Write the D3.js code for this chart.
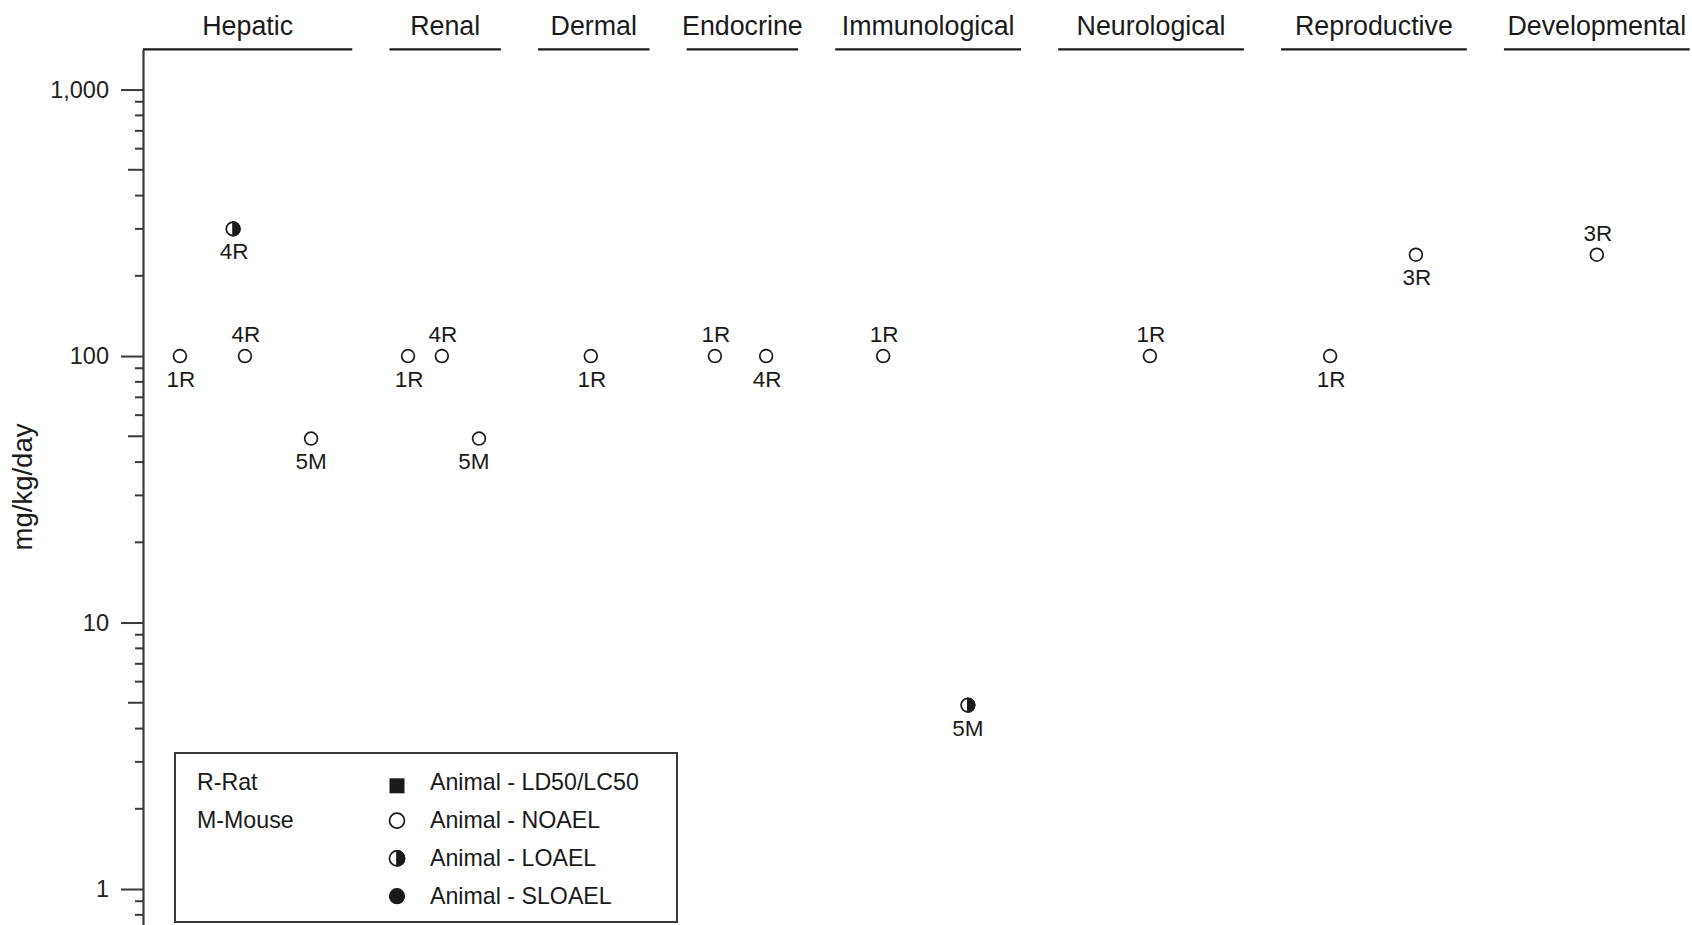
<!DOCTYPE html>
<html>
<head>
<meta charset="utf-8">
<script src="https://cdn.jsdelivr.net/npm/d3@7/dist/d3.min.js"></script>
<style>
  html, body { margin: 0; padding: 0; background: #ffffff; }
  svg { display: block; font-family: "Liberation Sans", Arial, sans-serif; }
</style>
</head>
<body>
<svg id="chart" width="1692" height="925"></svg>
<script>
// Endpoint categories and the column span each one occupies along the top
const categories = ["Hepatic", "Renal", "Dermal", "Endocrine", "Immunological", "Neurological", "Reproductive", "Developmental"];
const categoryStart = [0, 7, 11, 15, 19, 25, 31, 37];
const categoryEnd = [6, 10, 14, 18, 24, 30, 36, 42];

// Study endpoints: category, column within the layout, dose (mg/kg/day), study/species key, effect level, label side
const pointCategory = ["Hepatic", "Hepatic", "Hepatic", "Hepatic",
                       "Renal", "Renal", "Renal",
                       "Dermal",
                       "Endocrine", "Endocrine",
                       "Immunological", "Immunological",
                       "Neurological",
                       "Reproductive", "Reproductive",
                       "Developmental"];
const pointColumn = [1.36, 2.79, 3.11, 4.89,
                     7.5, 8.41, 9.41,
                     12.42,
                     15.76, 17.14,
                     20.29, 22.57,
                     27.47,
                     32.32, 34.63,
                     39.5];
const pointValue = [100, 300, 100, 49,
                    100, 100, 49,
                    100,
                    100, 100,
                    100, 4.9,
                    100,
                    100, 240,
                    240];
const pointStudy = ["1R", "4R", "4R", "5M",
                    "1R", "4R", "5M",
                    "1R",
                    "1R", "4R",
                    "1R", "5M",
                    "1R",
                    "1R", "3R",
                    "3R"];
const pointEffect = ["NOAEL", "LOAEL", "NOAEL", "NOAEL",
                     "NOAEL", "NOAEL", "NOAEL",
                     "NOAEL",
                     "NOAEL", "NOAEL",
                     "NOAEL", "LOAEL",
                     "NOAEL",
                     "NOAEL", "NOAEL",
                     "NOAEL"];
const pointLabelSide = ["below", "below", "above", "below",
                        "below", "above", "below",
                        "below",
                        "above", "below",
                        "above", "below",
                        "above",
                        "below", "below",
                        "above"];
// Labels nudged sideways where they would crowd a neighbour
const pointLabelNudge = [1, 1, 1, 0,
                         1, 1, -5,
                         1,
                         1, 1,
                         1, 0,
                         1,
                         1, 1,
                         1];

// Axis ticks
const majorTicks = [1, 10, 100, 1000];
const majorTickLabels = ["1", "10", "100", "1,000"];

// Legend entries
const speciesKey = ["R-Rat", "M-Mouse"];
const effectKeys = ["LD50/LC50", "NOAEL", "LOAEL", "SLOAEL"];
const effectKeyLabels = ["Animal - LD50/LC50", "Animal - NOAEL", "Animal - LOAEL", "Animal - SLOAEL"];

const ink = "#1a1a1a";
const axisX = 143;
const plotTop = 49.3;
const plotBottom = 930.3;

const svg = d3.select("#chart");

const x = d3.scaleLinear().domain([0, 42]).range([129.4, 1689.7]);
const y = d3.scaleLog().domain([0.7, 1416]).range([plotBottom, plotTop]);

// Category header lines and titles
const header = svg.append("g");
categories.forEach((name, i) => {
  const x0 = Math.max(x(categoryStart[i]), axisX);
  const x1 = x(categoryEnd[i]);
  header.append("line")
    .attr("x1", x0).attr("x2", x1)
    .attr("y1", plotTop).attr("y2", plotTop)
    .attr("stroke", ink).attr("stroke-width", 2.2);
  header.append("text")
    .attr("x", (x0 + x1) / 2).attr("y", 35)
    .attr("text-anchor", "middle")
    .attr("font-size", 26.8)
    .attr("fill", ink)
    .text(name);
});

// Y axis: major ticks with labels
const yAxis = d3.axisLeft(y)
  .tickValues(majorTicks)
  .tickFormat((d, i) => majorTickLabels[i])
  .tickSize(22)
  .tickPadding(12)
  .tickSizeOuter(0);

const gAxis = svg.append("g")
  .attr("transform", `translate(${axisX},0)`)
  .call(yAxis);
gAxis.select(".domain").attr("stroke", "#3a3a3a").attr("stroke-width", 2.2);
gAxis.selectAll(".tick line").attr("stroke", "#3a3a3a").attr("stroke-width", 2);
gAxis.selectAll(".tick text")
  .attr("font-size", 23.5)
  .attr("font-family", "\"Liberation Sans\", Arial, sans-serif")
  .attr("fill", "#222");

// Minor ticks at the intermediate multiples of each decade
const minorTicks = y.ticks().filter(v => !majorTicks.some(m => Math.abs(m - v) < 1e-9));
svg.append("g").selectAll("line")
  .data(minorTicks)
  .join("line")
  .attr("x1", d => {
    const lead = Math.round(d / Math.pow(10, Math.floor(Math.log10(d) + 1e-9)));
    return axisX - (lead === 5 ? 15 : 8);
  })
  .attr("x2", axisX)
  .attr("y1", d => y(d)).attr("y2", d => y(d))
  .attr("stroke", "#3a3a3a").attr("stroke-width", 2);

// Y axis title
svg.append("text")
  .attr("transform", `translate(32,487) rotate(-90)`)
  .attr("text-anchor", "middle")
  .attr("font-size", 27.5)
  .attr("fill", ink)
  .text("mg/kg/day");

// Symbol drawing for each effect level
function drawSymbol(g, type, cx, cy, r) {
  if (type === "NOAEL") {
    g.append("circle").attr("cx", cx).attr("cy", cy).attr("r", r)
      .attr("fill", "#fff").attr("stroke", ink).attr("stroke-width", 1.7);
  } else if (type === "LOAEL") {
    g.append("circle").attr("cx", cx).attr("cy", cy).attr("r", r)
      .attr("fill", "#fff").attr("stroke", ink).attr("stroke-width", 1.7);
    g.append("path")
      .attr("d", `M${cx},${cy - r} A${r},${r} 0 0 1 ${cx},${cy + r} Z`)
      .attr("fill", ink).attr("stroke", ink).attr("stroke-width", 1.7);
  } else if (type === "SLOAEL") {
    g.append("circle").attr("cx", cx).attr("cy", cy).attr("r", r)
      .attr("fill", ink).attr("stroke", ink).attr("stroke-width", 1.2);
  } else {
    g.append("rect").attr("x", cx - r).attr("y", cy - r)
      .attr("width", 2 * r).attr("height", 2 * r)
      .attr("fill", ink);
  }
}

// Data points with study labels
const points = pointValue.map((v, i) => ({
  category: pointCategory[i],
  column: pointColumn[i],
  value: v,
  study: pointStudy[i],
  effect: pointEffect[i],
  side: pointLabelSide[i],
  nudge: pointLabelNudge[i]
}));

const gPoints = svg.append("g");
points.forEach(p => {
  const cx = x(p.column);
  const cy = y(p.value);
  drawSymbol(gPoints, p.effect, cx, cy, p.effect === "LOAEL" ? 6.8 : 6.4);
  gPoints.append("text")
    .attr("x", cx + p.nudge)
    .attr("y", p.side === "above" ? cy - 14 : cy + 30.5)
    .attr("text-anchor", "middle")
    .attr("font-size", 22.5)
    .attr("fill", ink)
    .text(p.study);
});

// Legend
const legend = svg.append("g");
legend.append("rect")
  .attr("x", 175).attr("y", 753)
  .attr("width", 502).attr("height", 169)
  .attr("fill", "#fff")
  .attr("stroke", "#3a3a3a").attr("stroke-width", 2);

const rowY = d3.scalePoint().domain(d3.range(effectKeys.length)).range([790.3, 903.7]);

speciesKey.forEach((s, i) => {
  legend.append("text")
    .attr("x", 197).attr("y", rowY(i))
    .attr("font-size", 23.2).attr("fill", ink)
    .text(s);
});

effectKeys.forEach((k, i) => {
  const cy = rowY(i) - 7.5;
  const type = k === "LD50/LC50" ? "LD50" : k;
  drawSymbol(legend, type, 397, type === "LD50" ? cy + 3 : cy, 7.5);
  legend.append("text")
    .attr("x", 430).attr("y", rowY(i))
    .attr("font-size", 23.2).attr("fill", ink)
    .text(effectKeyLabels[i]);
});
</script>
</body>
</html>
